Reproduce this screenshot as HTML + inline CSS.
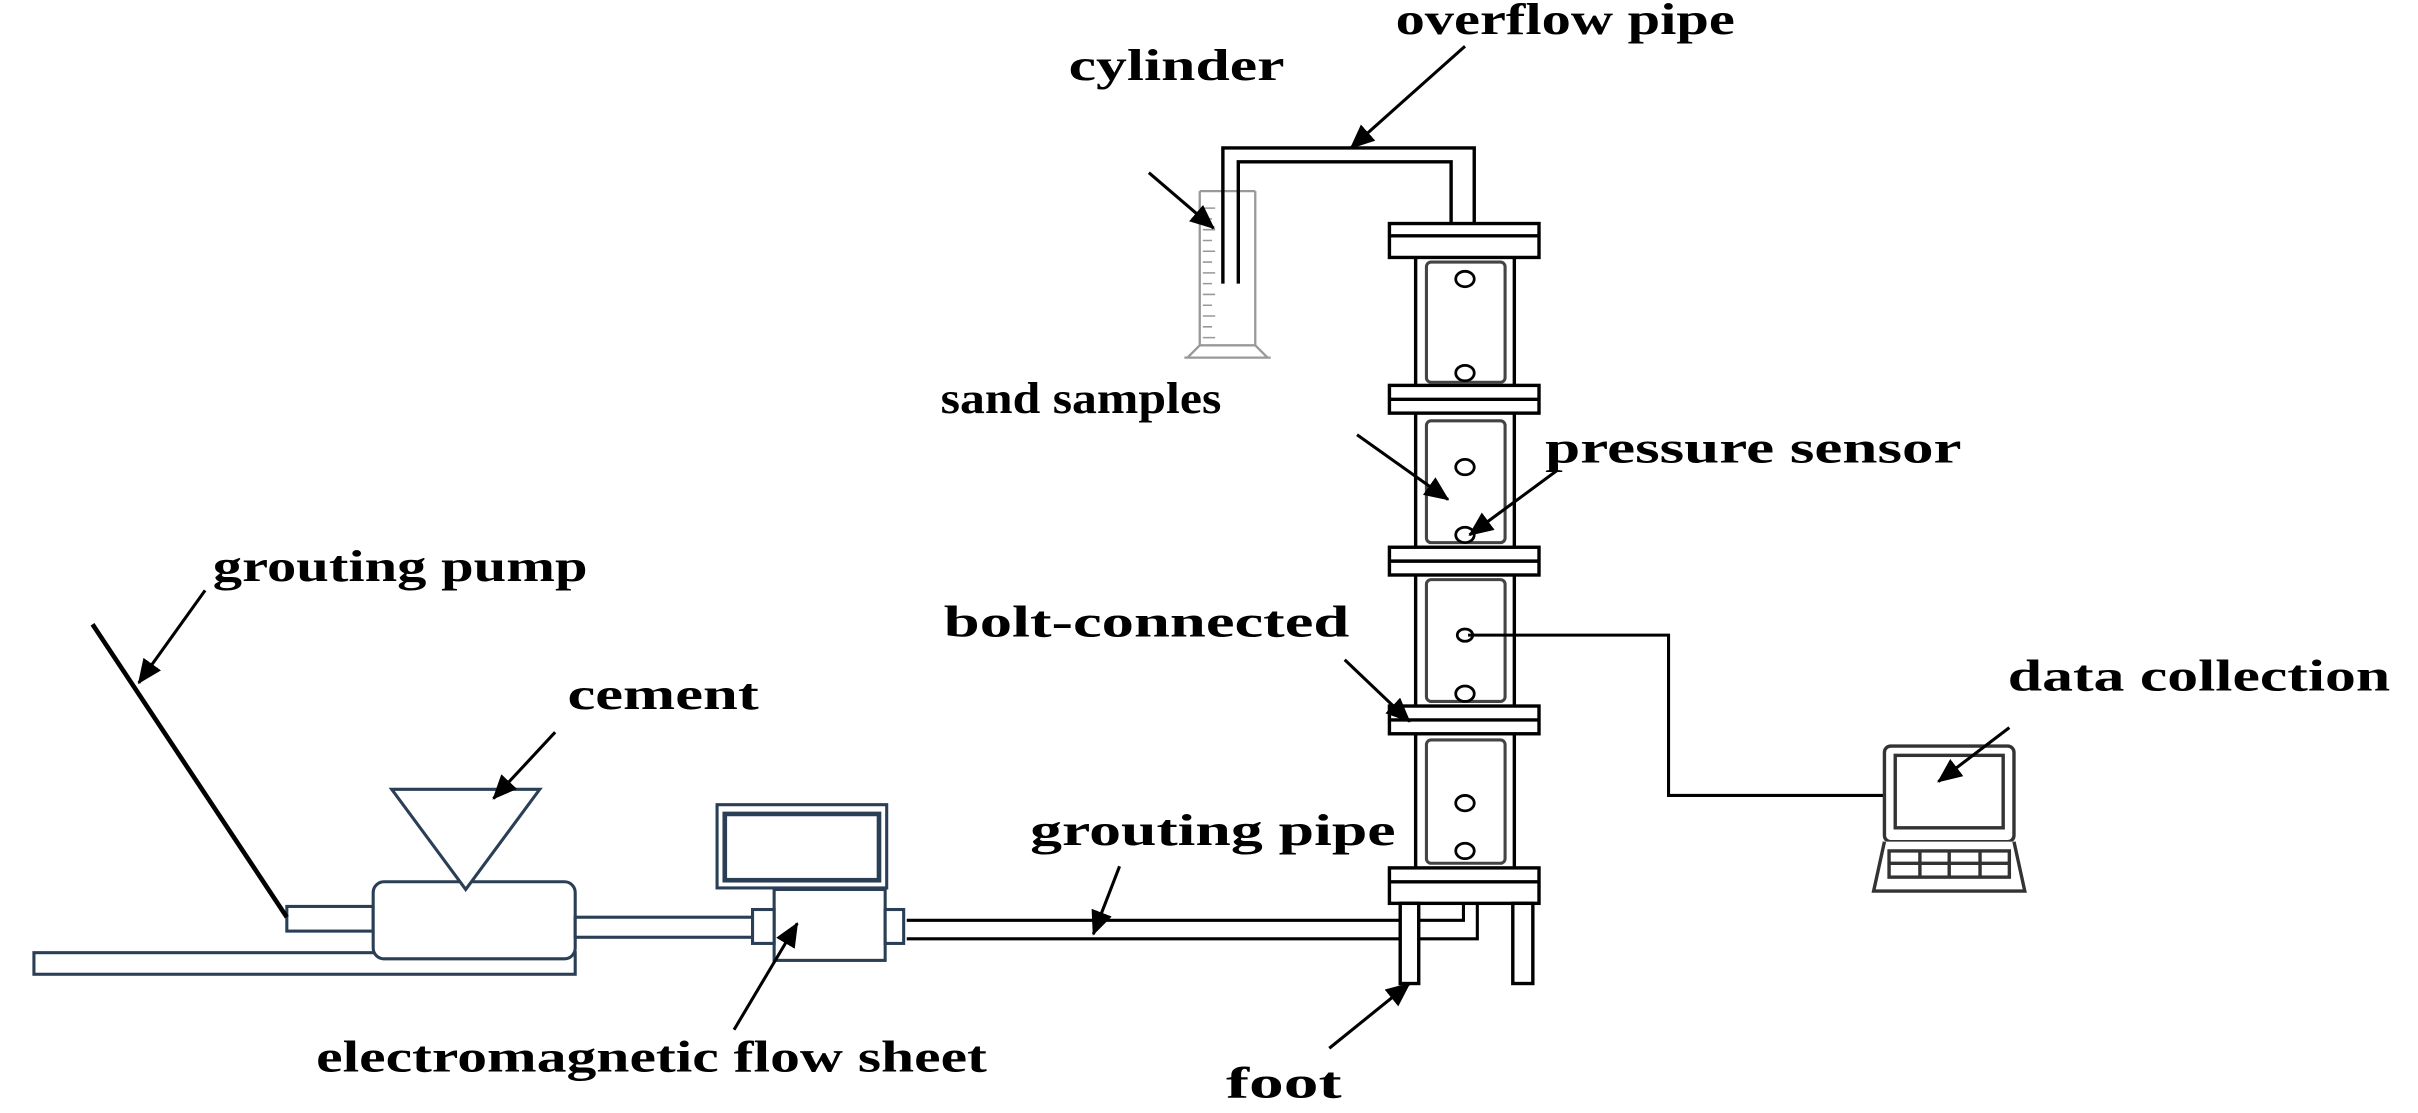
<!DOCTYPE html>
<html><head><meta charset="utf-8"><style>
html,body{margin:0;padding:0;background:#fff;}
svg{display:block;}
text{font-family:"Liberation Serif",serif;font-weight:bold;fill:#000;}
</style></head><body>
<svg width="2418" height="1113" viewBox="0 0 1568 722" preserveAspectRatio="none" xmlns="http://www.w3.org/2000/svg">
<defs>
<marker id="ah" markerWidth="16" markerHeight="14" refX="15" refY="7" orient="auto" markerUnits="userSpaceOnUse" viewBox="0 0 16 14">
<path d="M0,0 L16,7 L0,14 z" fill="#000"/>
</marker>
</defs>
<rect width="1568" height="722" fill="#fff"/>

<!-- cylinder -->
<g stroke="#999" stroke-width="1.5" fill="none">
<path d="M778,124 V224 H814 V124"/>
<path d="M770,232 L778,224 M814,224 L822,232 M768,232 H824"/>
<path d="M778,124 H814"/>
<g stroke-width="1">
<path d="M780,135h8M780,142h6M780,149h8M780,156h6M780,163h8M780,170h6M780,177h8M780,184h6M780,191h8M780,198h6M780,205h8M780,212h6M780,219h8"/>
</g>
</g>

<!-- overflow pipe -->
<g stroke="#000" stroke-width="2.2" fill="none">
<path d="M793,184 V96 H956 V145"/>
<path d="M803,184 V105 H941 V145"/>
</g>

<!-- column -->
<g stroke="#000" stroke-width="2.2" fill="#fff">
<rect x="918" y="160" width="64" height="415"/>
<rect x="901" y="145" width="97" height="22"/>
<rect x="901" y="250" width="97" height="18"/>
<rect x="901" y="355" width="97" height="18"/>
<rect x="901" y="458" width="97" height="18"/>
<rect x="901" y="563" width="97" height="23"/>
<line x1="901" y1="153" x2="998" y2="153"/>
<line x1="901" y1="259" x2="998" y2="259"/>
<line x1="901" y1="364" x2="998" y2="364"/>
<line x1="901" y1="467" x2="998" y2="467"/>
<line x1="901" y1="572" x2="998" y2="572"/>
</g>
<g stroke="#444" stroke-width="2" fill="none">
<rect x="925" y="170" width="51" height="78" rx="3"/>
<rect x="925" y="273" width="51" height="79" rx="3"/>
<rect x="925" y="376" width="51" height="79" rx="3"/>
<rect x="925" y="480" width="51" height="80" rx="3"/>
</g>
<g stroke="#000" stroke-width="1.8" fill="#fff">
<ellipse cx="950" cy="181" rx="6" ry="5"/>
<ellipse cx="950" cy="242" rx="6" ry="5"/>
<ellipse cx="950" cy="303" rx="6" ry="5"/>
<ellipse cx="950" cy="347" rx="6" ry="5"/>
<ellipse cx="950" cy="412" rx="5" ry="4"/>
<ellipse cx="950" cy="450" rx="6" ry="5"/>
<ellipse cx="950" cy="521" rx="6" ry="5"/>
<ellipse cx="950" cy="552" rx="6" ry="5"/>
</g>
<!-- legs -->
<g stroke="#000" stroke-width="2.2" fill="#fff">
<rect x="908" y="586" width="12" height="52"/>
<rect x="981" y="586" width="13" height="52"/>
</g>
<!-- wire -->
<path d="M952,412 H1082 V516 H1222" stroke="#000" stroke-width="2" fill="none"/>

<!-- laptop -->
<g stroke="#333" stroke-width="2.2" fill="#fff">
<rect x="1222" y="484" width="84" height="62" rx="4"/>
<rect x="1229" y="490" width="70" height="47"/>
<path d="M1222,546 L1215,578 H1313 L1306,546"/>
<rect x="1225" y="552" width="78" height="17"/>
<path d="M1225,560 H1303 M1245,552 V569 M1264,552 V569 M1284,552 V569" fill="none"/>
</g>

<!-- grouting pipe into column -->
<g stroke="#000" stroke-width="2" fill="none">
<path d="M588,597 H908 M920,597 H949 V586"/>
<path d="M588,609 H908 M920,609 H958 V586"/>
</g>

<!-- pump -->
<g stroke="#2a3f55" stroke-width="2" fill="#fff">
<rect x="22" y="618" width="351" height="14"/>
<rect x="186" y="588" width="56" height="16"/>
<rect x="242" y="572" width="131" height="50" rx="7"/>
<path d="M254,512 H350 L302,577 Z"/>
<rect x="373" y="595" width="115" height="13"/>
<rect x="465" y="522" width="110" height="54"/>
<rect x="470" y="528" width="100" height="43" stroke-width="3"/>
<rect x="502" y="577" width="72" height="46"/>
<rect x="488" y="590" width="14" height="22"/>
<rect x="574" y="590" width="12" height="22"/>
</g>
<line x1="60" y1="405" x2="186" y2="595" stroke="#000" stroke-width="3"/>

<!-- arrows -->
<g stroke="#000" stroke-width="2" fill="none" marker-end="url(#ah)">
<line x1="950" y1="30" x2="876" y2="96"/>
<line x1="745" y1="112" x2="787" y2="148"/>
<line x1="880" y1="282" x2="939" y2="324"/>
<line x1="1010" y1="305" x2="953" y2="347"/>
<line x1="872" y1="428" x2="914" y2="468"/>
<line x1="1303" y1="472" x2="1257" y2="507"/>
<line x1="133" y1="383" x2="90" y2="443"/>
<line x1="360" y1="475" x2="320" y2="518"/>
<line x1="726" y1="562" x2="709" y2="606"/>
<line x1="476" y1="668" x2="517" y2="599"/>
<line x1="862" y1="680" x2="914" y2="638"/>
</g>

<!-- labels -->
<g font-size="29">
<text x="905" y="22" textLength="220" lengthAdjust="spacingAndGlyphs">overflow pipe</text>
<text x="693" y="52" textLength="140" lengthAdjust="spacingAndGlyphs">cylinder</text>
<text x="610" y="268" textLength="182" lengthAdjust="spacingAndGlyphs">sand samples</text>
<text x="1002" y="300" textLength="270" lengthAdjust="spacingAndGlyphs">pressure sensor</text>
<text x="612" y="413" textLength="263" lengthAdjust="spacingAndGlyphs">bolt-connected</text>
<text x="1302" y="448" textLength="248" lengthAdjust="spacingAndGlyphs">data collection</text>
<text x="138" y="377" textLength="243" lengthAdjust="spacingAndGlyphs">grouting pump</text>
<text x="368" y="460" textLength="124" lengthAdjust="spacingAndGlyphs">cement</text>
<text x="668" y="548" textLength="237" lengthAdjust="spacingAndGlyphs">grouting pipe</text>
<text x="205" y="695" textLength="435" lengthAdjust="spacingAndGlyphs">electromagnetic flow sheet</text>
<text x="795" y="712" textLength="75" lengthAdjust="spacingAndGlyphs">foot</text>
</g>
</svg>
</body></html>
